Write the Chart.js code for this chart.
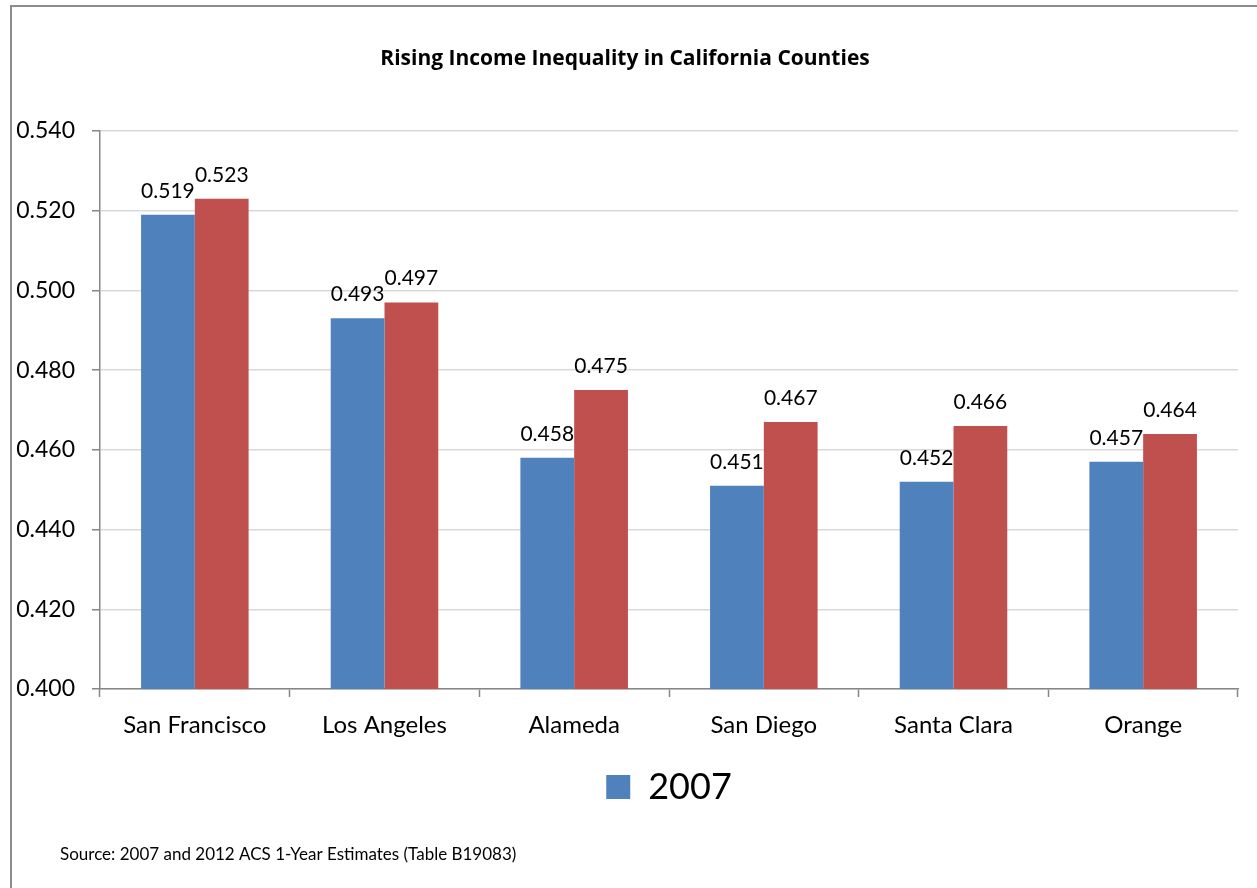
<!DOCTYPE html>
<html>
<head>
<meta charset="utf-8">
<title>Rising Income Inequality in California Counties</title>
<script src="https://cdn.jsdelivr.net/npm/chart.js@4.4.1/dist/chart.umd.min.js"></script>
<style>
  html, body { margin: 0; padding: 0; background: #ffffff; }
  #wrap { width: 1257px; height: 888px; position: relative; }
  canvas { display: block; }
</style>
</head>
<body>
<div id="wrap"><canvas id="chart" width="1257" height="888"></canvas></div>
<script>
// Gini index by county, ACS 1-year estimates
const counties = ['San Francisco', 'Los Angeles', 'Alameda', 'San Diego', 'Santa Clara', 'Orange'];
const gini2007 = [0.519, 0.493, 0.458, 0.451, 0.452, 0.457];
const gini2012 = [0.523, 0.497, 0.475, 0.467, 0.466, 0.464];
const seriesNames = ['2007', '2012'];

// value axis range and spacing
const yRange = [0.400, 0.540];
const yStep = 0.020;

const chartTitle = 'Rising Income Inequality in California Counties';
const sourceNote = 'Source: 2007 and 2012 ACS 1-Year Estimates (Table B19083)';

const FONT = 'Lato, "Open Sans", sans-serif';
const TITLE_FONT = '"Open Sans", Lato, sans-serif';
const AXIS_GRAY = '#868686';

// outer frame lines and the source note
const framePlugin = {
  id: 'frame',
  beforeDraw(chart) {
    const ctx = chart.ctx;
    ctx.save();
    ctx.fillStyle = '#ffffff';
    ctx.fillRect(0, 0, chart.width, chart.height);
    ctx.strokeStyle = '#8c8c8c';
    ctx.lineWidth = 2;
    ctx.beginPath();
    ctx.moveTo(11, chart.height);
    ctx.lineTo(11, 6);
    ctx.lineTo(chart.width, 6);
    ctx.stroke();
    ctx.restore();
  },
  afterDraw(chart) {
    const ctx = chart.ctx;
    ctx.save();
    ctx.fillStyle = '#000000';
    ctx.font = '17px ' + FONT;
    ctx.textAlign = 'left';
    ctx.textBaseline = 'middle';
    ctx.fillText(sourceNote, 60, 855);
    ctx.restore();
  }
};

// value labels above each bar
const valueLabelPlugin = {
  id: 'valueLabels',
  afterDatasetsDraw(chart) {
    const ctx = chart.ctx;
    ctx.save();
    ctx.fillStyle = '#000000';
    ctx.font = '21px ' + FONT;
    ctx.textAlign = 'center';
    ctx.textBaseline = 'alphabetic';
    chart.data.datasets.forEach((ds, di) => {
      const meta = chart.getDatasetMeta(di);
      meta.data.forEach((bar, i) => {
        ctx.fillText(ds.data[i].toFixed(3), bar.x, bar.y - 17);
      });
    });
    ctx.restore();
  }
};

new Chart(document.getElementById('chart'), {
  type: 'bar',
  data: {
    labels: counties,
    datasets: [
      { label: seriesNames[0], data: gini2007, backgroundColor: '#4F81BD', borderWidth: 0 },
      { label: seriesNames[1], data: gini2012, backgroundColor: '#C0504D', borderWidth: 0 }
    ]
  },
  options: {
    responsive: false,
    animation: false,
    devicePixelRatio: 1,
    layout: { padding: { left: 12, right: 19, top: 0, bottom: 73 } },
    datasets: {
      bar: { categoryPercentage: 0.567, barPercentage: 1.0 }
    },
    plugins: {
      title: {
        display: true,
        text: chartTitle,
        color: '#000000',
        font: { family: TITLE_FONT, size: 21, weight: 'bold', lineHeight: 1 },
        padding: { top: 49, bottom: 61 }
      },
      legend: {
        display: true,
        position: 'bottom',
        fullSize: false,
        labels: {
          filter: (item) => item.datasetIndex === 0,
          boxWidth: 24,
          boxHeight: 24,
          padding: 20,
          color: '#000000',
          font: { family: FONT, size: 36 }
        }
      },
      tooltip: { enabled: false }
    },
    scales: {
      x: {
        grid: {
          drawOnChartArea: false,
          drawTicks: true,
          tickLength: 8,
          tickColor: AXIS_GRAY,
          tickWidth: 1.5,
          offset: true
        },
        border: { color: AXIS_GRAY, width: 1.5 },
        ticks: {
          color: '#000000',
          font: { family: FONT, size: 24 },
          padding: 14,
          maxRotation: 0
        },
        afterFit: (scale) => { scale.height = 60; }
      },
      y: {
        min: yRange[0],
        max: yRange[1],
        grid: {
          color: '#d9d9d9',
          lineWidth: 1.5,
          drawTicks: true,
          tickLength: 8,
          tickColor: AXIS_GRAY,
          tickWidth: 1.5
        },
        border: { color: AXIS_GRAY, width: 1.5 },
        ticks: {
          stepSize: yStep,
          color: '#000000',
          font: { family: FONT, size: 23 },
          padding: 17,
          callback: (v) => Number(v).toFixed(3)
        },
        afterFit: (scale) => { scale.width = 88; }
      }
    }
  },
  plugins: [framePlugin, valueLabelPlugin]
});
</script>
</body>
</html>
